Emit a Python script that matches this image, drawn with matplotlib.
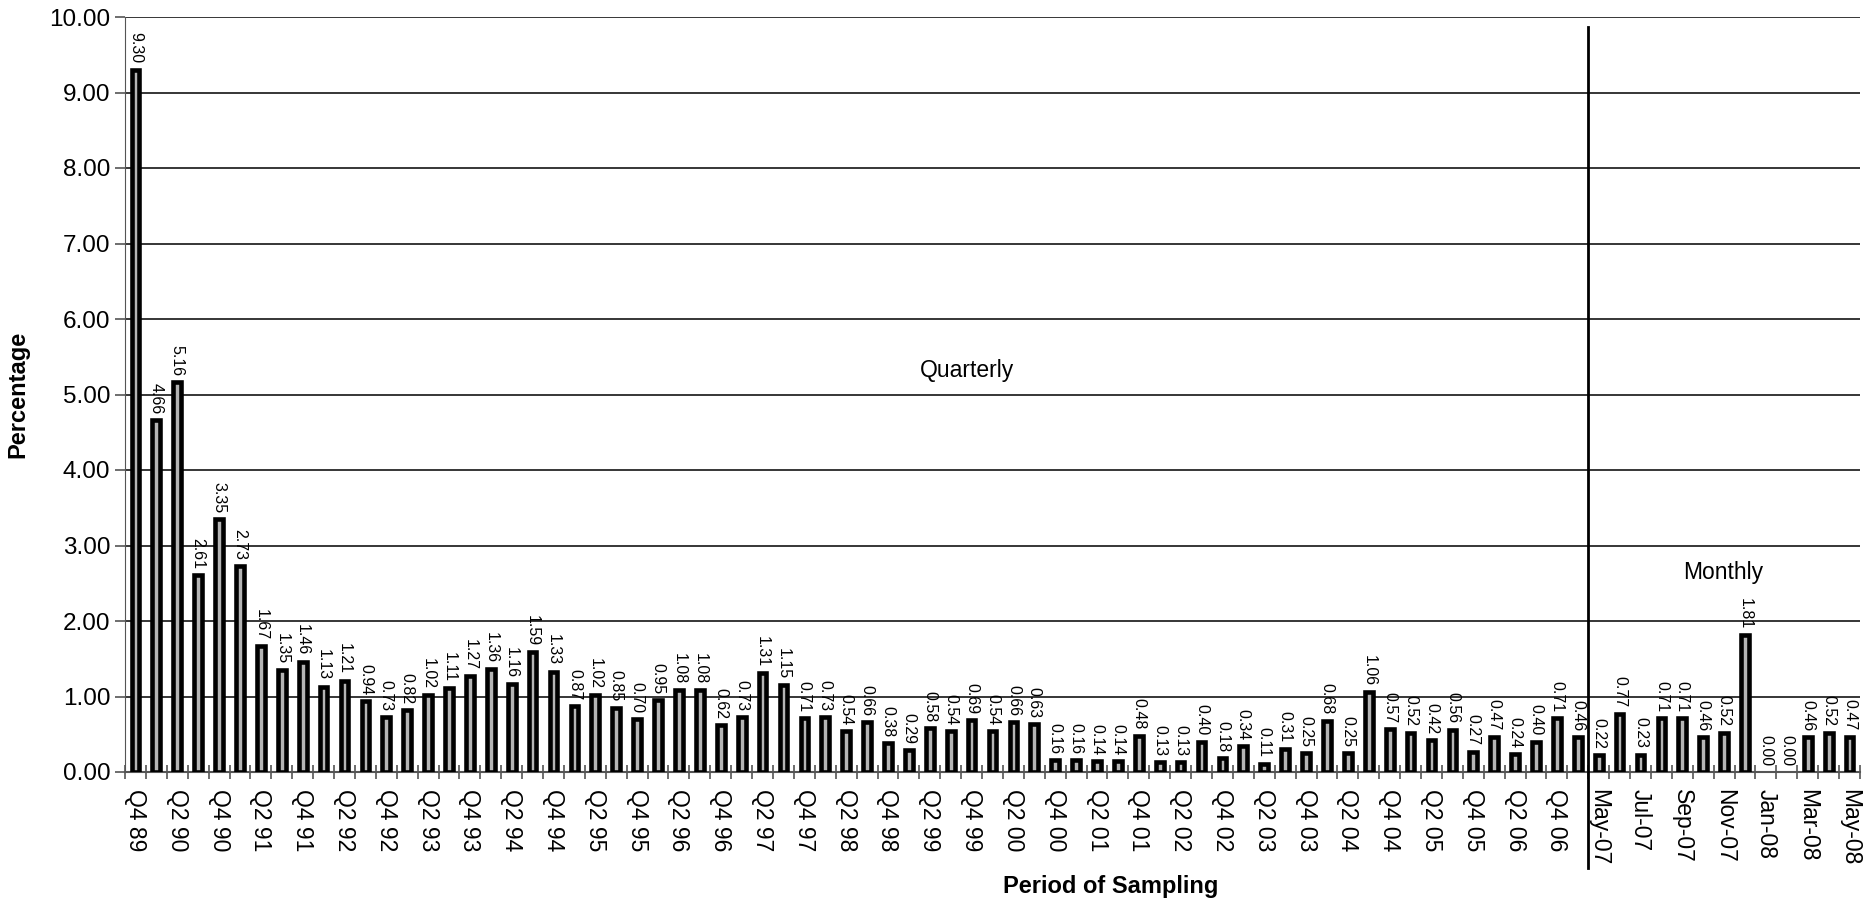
import numpy as np
import matplotlib
matplotlib.use("Agg")
import matplotlib.pyplot as plt
from matplotlib.ticker import FixedLocator, FormatStrFormatter
import matplotlib.transforms as mtransforms

plt.rcParams["font.family"] = ["Liberation Sans", "DejaVu Sans"]

# quarterly samples Q4 89 .. Q1 07
quarterly = [
    9.30, 4.66, 5.16, 2.61, 3.35, 2.73, 1.67, 1.35, 1.46, 1.13,
    1.21, 0.94, 0.73, 0.82, 1.02, 1.11, 1.27, 1.36, 1.16, 1.59,
    1.33, 0.87, 1.02, 0.85, 0.70, 0.95, 1.08, 1.08, 0.62, 0.73,
    1.31, 1.15, 0.71, 0.73, 0.54, 0.66, 0.38, 0.29, 0.58, 0.54,
    0.69, 0.54, 0.66, 0.63, 0.16, 0.16, 0.14, 0.14, 0.48, 0.13,
    0.13, 0.40, 0.18, 0.34, 0.11, 0.31, 0.25, 0.68, 0.25, 1.06,
    0.57, 0.52, 0.42, 0.56, 0.27, 0.47, 0.24, 0.40, 0.71, 0.46,
]
# monthly samples May-07 .. May-08
monthly = [0.22, 0.77, 0.23, 0.71, 0.71, 0.46, 0.52, 1.81, 0.00, 0.00, 0.46, 0.52, 0.47]

quarter_names = ["Q4 89"]
for yr in range(90, 107):
    for q in range(1, 5):
        quarter_names.append(f"Q{q} {yr % 100:02d}")
quarter_names.append("Q1 07")
month_names = ["May-07", "Jun-07", "Jul-07", "Aug-07", "Sep-07", "Oct-07", "Nov-07",
               "Dec-07", "Jan-08", "Feb-08", "Mar-08", "Apr-08", "May-08"]

values = quarterly + monthly
labels = quarter_names[:len(quarterly)] + month_names
x = np.arange(len(values))

fig = plt.figure(figsize=(18.71, 9.01), dpi=100)
ax = fig.add_axes([125 / 1871, 1 - 772 / 901, (1860 - 125) / 1871, 755 / 901])

# thick black outline with a thin grey core, like the original
edge_w = [3.3 if v > 0 else 0 for v in values]
ax.bar(x, values, width=0.37, color="#b4b4b4", edgecolor="black", linewidth=edge_w, zorder=3)

for xi, v in zip(x, values):
    ax.annotate(f"{v:.2f}", (xi, v), xytext=(0, 4.5), textcoords="offset points",
                rotation=270, ha="center", va="bottom", fontsize=11.5, zorder=4)

ax.set_xlim(-0.5, len(values) - 0.5)
ax.set_ylim(0, 10)
ax.yaxis.set_major_locator(FixedLocator(np.arange(0, 11, 1)))
ax.yaxis.set_major_formatter(FormatStrFormatter("%.2f"))
ax.grid(axis="y", color="black", linewidth=1.1, zorder=0)
ax.set_axisbelow(True)

ax.set_xticks(x[::2])
ax.set_xticklabels(labels[::2], rotation=270, fontsize=16.5)
ax.set_xticks(np.arange(-0.5, len(values), 1), minor=True)
ax.tick_params(axis="x", which="major", length=0, pad=12)
ax.tick_params(axis="x", which="minor", length=10, direction="inout", color="#555555", width=1.2)
ax.tick_params(axis="y", labelsize=17.5, length=7, color="#555555", width=1.2)

for side in ["top", "right"]:
    ax.spines[side].set_visible(False)
ax.spines["left"].set_color("#555555")
ax.spines["bottom"].set_color("#555555")
ax.spines["bottom"].set_linewidth(1.5)

# divider between quarterly and monthly sampling
trans = mtransforms.blended_transform_factory(ax.transData, ax.transAxes)
split = len(quarterly) - 0.5
ax.plot([split, split], [0.987, -0.127], transform=trans, color="black",
        linewidth=2, clip_on=False, zorder=5)

ax.text(39.8, 5.32, "Quarterly", ha="center", va="center", fontsize=16.5)
ax.text(75.96, 2.64, "Monthly", ha="center", va="center", fontsize=16.5)

ax.set_ylabel("Percentage", fontsize=17, fontweight="bold", labelpad=14)
fig.text(1111 / 1871, 1 - 886 / 901, "Period of Sampling", ha="center", va="center",
         fontsize=17, fontweight="bold")

fig.savefig("out.png", dpi=100)
